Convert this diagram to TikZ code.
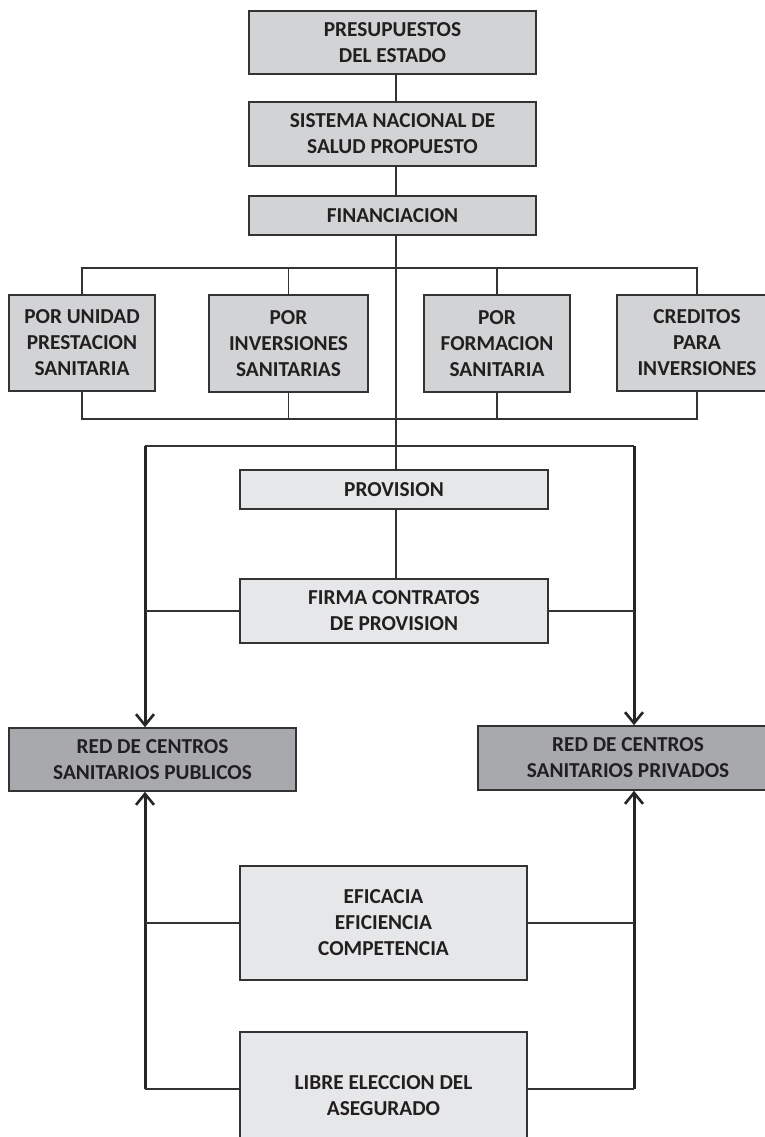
\documentclass[tikz,border=0pt]{standalone}
\usepackage{fontspec}
\setmainfont{Carlito}
\usetikzlibrary{arrows.meta}
\definecolor{txt}{HTML}{231F20}
\definecolor{edge}{HTML}{333333}
\definecolor{midgray}{HTML}{D1D3D4}
\definecolor{lightgray}{HTML}{E6E7E8}
\definecolor{darkgray}{HTML}{A7A9AC}
\tikzset{
  box/.style={draw=edge, line width=1.6pt, inner sep=0pt, align=center,
    text=txt, font=\fontsize{21.3}{26}\selectfont\bfseries},
  boxmid/.style={box, fill=midgray},
  boxlight/.style={box, fill=lightgray},
  boxdark/.style={box, fill=darkgray},
  conn/.style={draw=edge, line width=1.5pt},
  mainarrow/.style={draw=black!85, line width=3pt,
    -{Straight Barb[length=11pt,width=18pt,line width=2.6pt]}},
}
\begin{document}
\begin{tikzpicture}[x=1pt,y=-1pt]
\useasboundingbox (0,0) rectangle (765,1137);
\fill[white] (0,0) rectangle (765,1137);

% named helper coordinates
\coordinate (mx) at (396,0);
\coordinate (lx) at (145,0);
\coordinate (rx) at (634,0);
\coordinate (tbus) at (0,268);
\coordinate (bbus) at (0,419);
\coordinate (pbus) at (0,446);
\coordinate (ly) at (0,1089);

% nodes
\node[boxmid, minimum width=287pt, minimum height=63pt] (pres) at (392.5,42.5) {PRESUPUESTOS\\DEL ESTADO};
\node[boxmid, minimum width=287pt, minimum height=64pt] (sist) at (392.5,134) {SISTEMA NACIONAL DE\\SALUD PROPUESTO};
\node[boxmid, minimum width=287pt, minimum height=39pt] (fin) at (392.5,215.5) {FINANCIACION};

\node[boxmid, minimum width=146pt, minimum height=96pt] (uni) at (82,343) {POR UNIDAD\\PRESTACION\\SANITARIA};
\node[boxmid, minimum width=159pt, minimum height=97pt] (inv) at (288.5,343.5) {POR\\INVERSIONES\\SANITARIAS};
\node[boxmid, minimum width=146pt, minimum height=97pt] (for) at (497,343.5) {POR\\FORMACION\\SANITARIA};
\node[boxmid, minimum width=160pt, minimum height=96pt] (cre) at (697,343) {CREDITOS\\PARA\\INVERSIONES};

\node[boxlight, minimum width=308pt, minimum height=39pt] (prov) at (394,489.5) {PROVISION};
\node[boxlight, minimum width=308pt, minimum height=64pt] (firma) at (394,611) {FIRMA CONTRATOS\\DE PROVISION};

\node[boxdark, minimum width=287pt, minimum height=63pt] (rpub) at (152.5,759.5) {RED DE CENTROS\\SANITARIOS PUBLICOS};
\node[boxdark, minimum width=300pt, minimum height=64pt] (rpri) at (628,758) {RED DE CENTROS\\SANITARIOS PRIVADOS};

\node[boxlight, minimum width=287pt, minimum height=114pt] (efi) at (383.5,923) {EFICACIA\\EFICIENCIA\\COMPETENCIA};
\node[boxlight, minimum width=287pt, minimum height=128pt] (lib) at (383.5,1096) {LIBRE ELECCION DEL\\ASEGURADO};

% top chain
\draw[conn] (pres.south -| mx) -- (sist.north -| mx);
\draw[conn] (sist.south -| mx) -- (fin.north -| mx);
\draw[conn] (fin.south -| mx) -- (prov.north -| mx);

% financing buses
\draw[conn] (uni.north) -- (uni.north |- tbus) -- (cre.north |- tbus) -- (cre.north);
\draw[conn] (inv.north) -- (inv.north |- tbus);
\draw[conn] (for.north) -- (for.north |- tbus);
\draw[conn] (uni.south) -- (uni.south |- bbus) -- (cre.south |- bbus) -- (cre.south);
\draw[conn] (inv.south) -- (inv.south |- bbus);
\draw[conn] (for.south) -- (for.south |- bbus);

% provision
\draw[conn] (prov.south -| mx) -- (firma.north -| mx);
\draw[conn] (lx |- pbus) -- (rx |- pbus);
\draw[mainarrow] (lx |- pbus) -- (lx |- rpub.north);
\draw[mainarrow] (rx |- pbus) -- (rx |- rpri.north);
\draw[conn] (firma.west) -- (firma.west -| lx);
\draw[conn] (firma.east) -- (firma.east -| rx);

% bottom
\draw[mainarrow] (lx |- ly) -- (lx |- rpub.south);
\draw[mainarrow] (rx |- ly) -- (rx |- rpri.south);
\draw[conn] (efi.west) -- (efi.west -| lx);
\draw[conn] (efi.east) -- (efi.east -| rx);
\draw[conn] (lib.west |- ly) -- (lx |- ly);
\draw[conn] (lib.east |- ly) -- (rx |- ly);
\end{tikzpicture}
\end{document}
